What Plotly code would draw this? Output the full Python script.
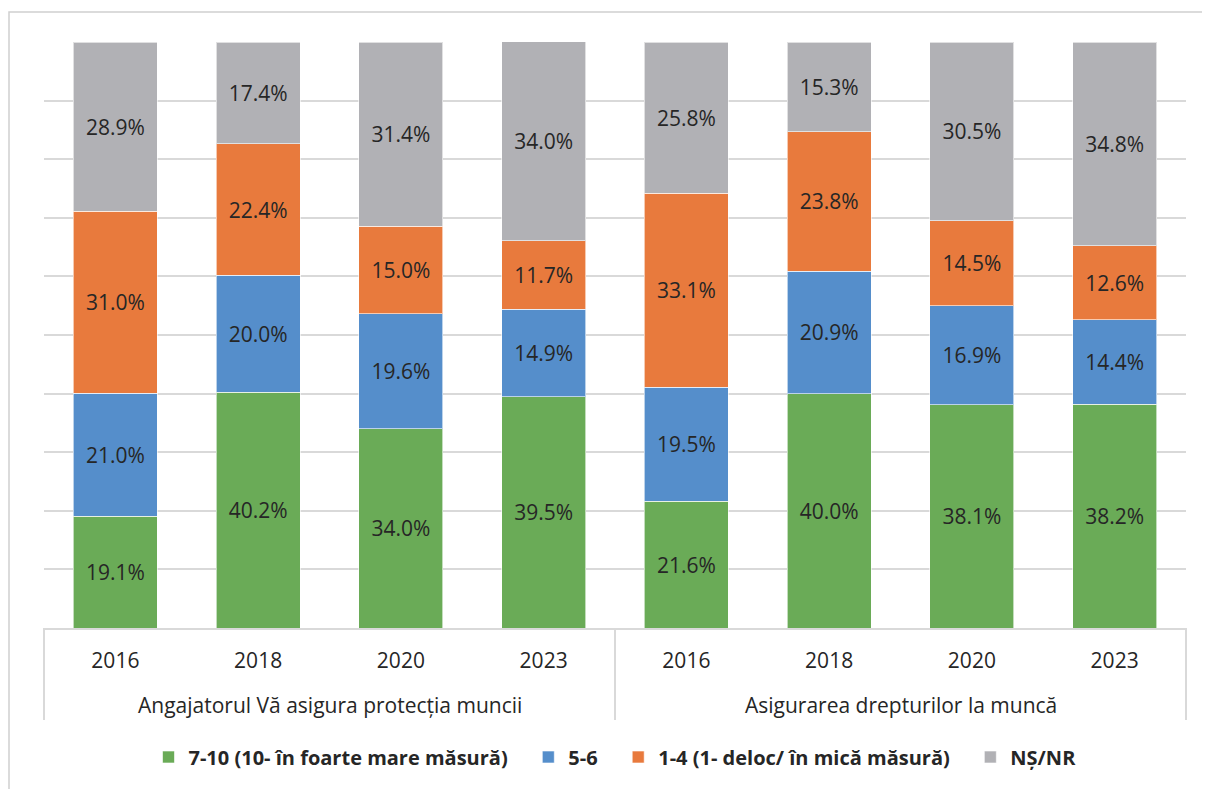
import plotly.graph_objects as go

# ── Data ──────────────────────────────────────────────────────────────────────
GROUPS = ["Angajatorul Vă asigura protecția muncii", "Asigurarea drepturilor la muncă"]
YEARS = ["2016", "2018", "2020", "2023"]

high_7_10 = [19.1, 40.2, 34.0, 39.5, 21.6, 40.0, 38.1, 38.2]
mid_5_6   = [21.0, 20.0, 19.6, 14.9, 19.5, 20.9, 16.9, 14.4]
low_1_4   = [31.0, 22.4, 15.0, 11.7, 33.1, 23.8, 14.5, 12.6]
ns_nr     = [28.9, 17.4, 31.4, 34.0, 25.8, 15.3, 30.5, 34.8]

SERIES = [
    ("7-10 (10- în foarte mare măsură)", high_7_10, "#6AAB57"),
    ("5-6",                              mid_5_6,   "#558ECB"),
    ("1-4 (1- deloc/ în mică măsură)",   low_1_4,   "#E87A3D"),
    ("NȘ/NR",                            ns_nr,     "#B1B1B5"),
]

FONT = "Open Sans"
TXT = "#262626"
LINE = "#D9D9D9"
PAD = "\u00a0" * 3   # extra space between legend entries

# one category per bar: group index + year
cats = [f"{gi}-{y}" for gi in range(len(GROUPS)) for y in YEARS]
year_labels = [y for _ in GROUPS for y in YEARS]

# page body has an 8px margin, so the figure is sized/offset for it
W, H = 1202, 781
ML, MR, MT, MB = 36, 24, 34, 161
PW, PH = W - ML - MR, H - MT - MB

fig = go.Figure()
for i, (name, vals, color) in enumerate(SERIES):
    fig.add_trace(go.Bar(
        x=cats, y=vals,
        name=name + (PAD if i < len(SERIES) - 1 else ""),
        marker=dict(color=color, line=dict(color="rgba(255,255,255,0.6)", width=1)),
        texttemplate="%{y:.1f}%",
        textposition="inside",
        insidetextanchor="middle",
        textangle=0,
        textfont=dict(family=FONT, size=21, color=TXT),
        hoverinfo="skip",
    ))

fig.update_layout(
    barmode="stack",
    bargap=0.41,
    width=W, height=H,
    margin=dict(l=ML, r=MR, t=MT, b=MB),
    paper_bgcolor="white",
    plot_bgcolor="white",
    font=dict(family=FONT, color=TXT),
    showlegend=True,
    legend=dict(
        orientation="h",
        x=0.5, xanchor="center",
        y=-(749 - (H - MB)) / PH, yanchor="middle",
        font=dict(family=FONT, size=20, color=TXT, weight="bold"),
        itemwidth=30,
        traceorder="normal",
    ),
    uniformtext=dict(minsize=21, mode="show"),
)

fig.update_xaxes(
    type="category",
    tickvals=cats, ticktext=year_labels,
    showline=True, linecolor=LINE, linewidth=2,
    ticks="",
    ticklabelstandoff=13,
    tickfont=dict(family=FONT, size=21, color=TXT),
    showgrid=False,
)
fig.update_yaxes(
    range=[0, 100],
    dtick=10,
    showticklabels=False,
    showgrid=True, gridcolor=LINE, gridwidth=2,
    zeroline=False,
    showline=False,
)

# group labels under the years
for gi, g in enumerate(GROUPS):
    fig.add_annotation(
        text=g, xref="paper", yref="paper",
        x=(gi + 0.5) / len(GROUPS), y=-(705 - 628) / PH,
        xanchor="center", yanchor="middle", showarrow=False,
        font=dict(family=FONT, size=21, color=TXT),
    )

# vertical dividers below the axis
for xp in [0, 0.5, 1]:
    fig.add_shape(
        type="line", xref="paper", yref="paper",
        x0=xp, x1=xp, y0=0, y1=-(720 - 628) / PH,
        line=dict(color=LINE, width=2),
    )

# outer chart frame
fig.add_shape(
    type="rect", xref="paper", yref="paper",
    x0=-(ML - 1) / PW, x1=1.05, y0=-0.3, y1=1 + (MT - 4) / PH,
    line=dict(color="#D0D0D0", width=1.5),
    fillcolor="rgba(0,0,0,0)",
    layer="below",
)

fig.write_html("out.html")
